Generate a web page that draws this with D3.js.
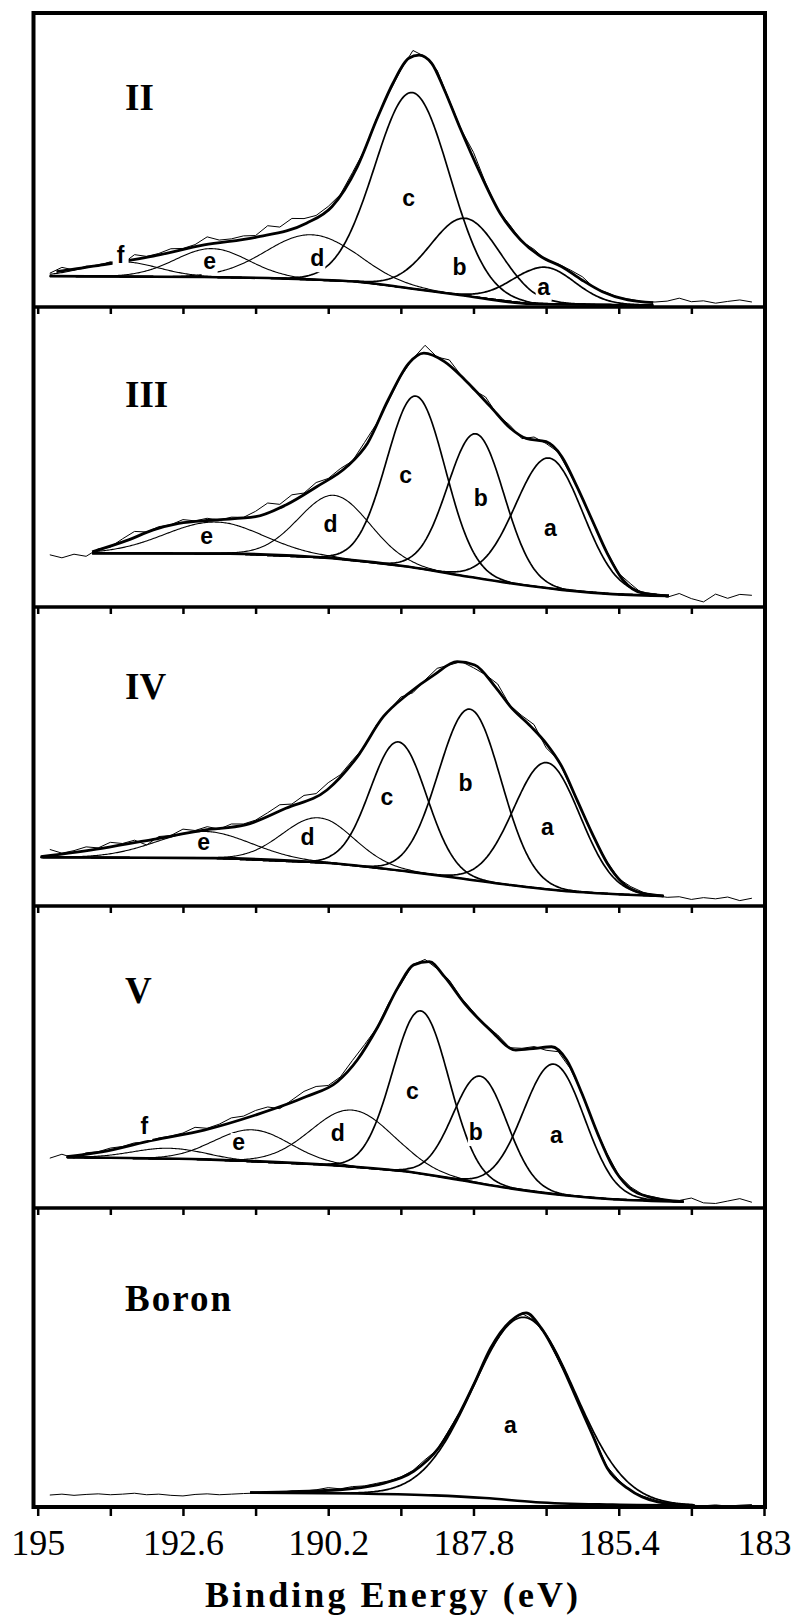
<!DOCTYPE html>
<html>
<head>
<meta charset="utf-8">
<title>B 1s spectra</title>
<style>
  body { margin: 0; background: #fff; }
  .frame { fill: none; stroke: #000; stroke-width: 4; }
  .divider { stroke: #000; stroke-width: 3.5; }
  .raw { fill: none; stroke: #000; stroke-width: 1; }
  .comp { fill: none; stroke: #000; }
  .env { fill: none; stroke: #000; stroke-width: 2.8; }
  .bg { fill: none; stroke: #000; stroke-width: 2.6; }
  .peak-label { font-family: "Liberation Sans", Arial, sans-serif; font-weight: bold; font-size: 23px; text-anchor: middle; }
  .panel-label { font-family: "Liberation Serif", "Times New Roman", serif; font-weight: bold; font-size: 37px; }
  .tick line { stroke: #000; stroke-width: 2.5; }
  .tick text { font-family: "Liberation Serif", "Times New Roman", serif; font-size: 36px; fill: #000; }
  .axis-title { font-family: "Liberation Serif", "Times New Roman", serif; font-weight: bold; font-size: 36px; }
</style>
</head>
<body>
<svg width="802" height="1618"></svg>
<script src="https://d3js.org/d3.v7.min.js"></script>
<script>

// x axis
var energyTicks = [195, 193.8, 192.6, 191.4, 190.2, 189, 187.8, 186.6, 185.4, 184.2, 183];
var tickText = ["195", "", "192.6", "", "190.2", "", "187.8", "", "185.4", "", "183"];
var panelNames = ["II", "III", "IV", "V", "Boron"];

// fitted components: [label, centre (eV), height above background, FWHM (eV)]
var peaksII = [["a", 186.64, 12.5, 1.2], ["b", 187.93, 26.3, 1.35], ["c", 188.81, 66.7, 1.45],
               ["d", 190.47, 15.3, 1.77], ["e", 192.12, 9.7, 1.43], ["f", 193.6, 5, 1.4]];
var peaksIII = [["a", 186.55, 43.4, 1.31], ["b", 187.76, 48, 1.1], ["c", 188.75, 57.3, 1.14],
                ["d", 190.10, 21, 1.39], ["e", 192.08, 10.5, 1.94]];
var peaksIV = [["a", 186.59, 42.3, 1.29], ["b", 187.86, 57, 1.22], ["c", 189.04, 43, 1.1],
               ["d", 190.37, 15, 1.39], ["e", 192.25, 8.9, 1.86]];
var peaksV = [["a", 186.47, 43, 1.19], ["b", 187.69, 35.5, 1.05], ["c", 188.67, 53.9, 1.1],
              ["d", 189.80, 18.8, 1.6], ["e", 191.45, 10.5, 1.48], ["f", 192.84, 3.5, 1.4]];
var peaksBoron = [["a", 186.96, 61.5, 1.97]];

// background knots [eV, intensity]
var bgII = [[194.8, 10.5], [192.25, 10.2], [190.98, 9.7], [189.72, 8.6], [188.87, 6.4], [188.03, 4.1], [186.85, 1.1], [184.83, 0.6]];
var bgIII = [[194.1, 17.9], [191.83, 17.8], [190.14, 16.3], [188.87, 13.4], [188.03, 10.6], [187.19, 7.9], [186.34, 5.7], [185.5, 4.3], [184.57, 3.7]];
var bgIV = [[194.95, 16.3], [192.08, 16.0], [190.14, 14.3], [188.87, 11.5], [188.03, 9.3], [187.19, 7.0], [186.34, 5.1], [185.5, 4.0], [184.66, 3.3]];
var bgV = [[194.52, 16.8], [192.25, 16.1], [190.14, 14.2], [188.87, 12.0], [188.03, 9.3], [187.19, 6.5], [186.34, 4.3], [185.5, 2.9], [184.33, 2.1]];
var bgBoron = [[191.49, 4.8], [189.72, 4.5], [188.45, 3.9], [187.61, 3.0], [186.77, 1.6], [185.5, 0.8], [184.15, 0.5]];

// fit envelope [eV, intensity]
var envII = [[194.69, 12.0], [193.94, 14.3], [193.09, 17.3], [192.25, 21.1], [191.40, 23.7], [190.56, 28.5], [190.14, 34.1],
  [189.72, 47.7], [189.38, 64.7], [189.13, 76.1], [188.87, 84.6], [188.70, 85.7], [188.49, 82.9], [188.28, 73.8],
  [188.03, 61.3], [187.69, 45.5], [187.36, 31.9], [187.02, 22.8], [186.68, 17.1], [186.34, 13.7], [186.01, 9.2],
  [185.67, 5.2], [185.25, 2.4], [184.83, 1.5]];
var envIII = [[194.10, 18.4], [193.51, 22.3], [193.09, 25.7], [192.67, 27.9], [192.08, 29.0], [191.40, 30.1], [190.90, 34.0],
  [190.39, 40.1], [189.89, 46.8], [189.55, 54.6], [189.21, 69.0], [188.87, 81.2], [188.62, 84.6], [188.28, 81.8],
  [187.94, 75.7], [187.52, 66.8], [187.19, 59.6], [186.93, 56.2], [186.60, 55.1], [186.34, 50.1], [186.09, 40.1],
  [185.84, 29.0], [185.59, 17.9], [185.33, 9.0], [185.0, 4.6], [184.57, 3.7]];
var envIV = [[194.95, 16.5], [193.94, 19.3], [193.09, 22.3], [192.25, 25.4], [191.57, 27.1], [190.90, 32.7], [190.22, 38.8],
  [189.72, 49.9], [189.29, 63.3], [188.87, 71.1], [188.45, 77.3], [188.07, 81.7], [187.78, 80.6], [187.44, 73.3],
  [187.19, 66.7], [186.85, 60.0], [186.60, 54.4], [186.34, 46.6], [186.09, 35.5], [185.84, 24.3], [185.59, 14.3],
  [185.33, 7.6], [185.0, 4.2], [184.66, 3.4]];
var envV = [[194.52, 17.0], [193.94, 18.6], [193.09, 22.5], [192.25, 25.8], [191.40, 30.8], [190.56, 36.9], [190.05, 41.8],
  [189.72, 49.0], [189.38, 60.0], [189.04, 73.3], [188.79, 80.5], [188.53, 81.6], [188.28, 76.6], [187.95, 67.8],
  [187.52, 58.9], [187.10, 52.3], [186.77, 52.9], [186.51, 53.4], [186.26, 49.0], [186.01, 38.0], [185.75, 24.7],
  [185.5, 13.7], [185.25, 7.1], [184.91, 3.7], [184.33, 2.1]];
var envBoron = [[191.49, 4.8], [190.14, 5.6], [189.29, 7.9], [188.79, 11.9], [188.37, 19.9], [188.03, 31.3], [187.78, 41.6],
  [187.52, 53.0], [187.19, 62.1], [186.93, 64.9], [186.68, 59.8], [186.34, 47.3], [186.09, 35.9], [185.84, 24.4],
  [185.59, 13.0], [185.25, 6.2], [184.74, 1.6], [184.15, 0.5]];

// raw counts: deviation from the envelope every 0.2 eV, from 195 down to 183
var noiseII = [0, -0.5, 1.2, -0.3, 0.4, -0.2, 0.6, -0.8, 1.6, 0.3, 0.5, 1.2, 0.4, 0.8, 2.6, 0.9, 0.7, 1.1, 0.6, 2.8,
  1.2, 3.0, 1.8, 0.5, 0.9, -0.4, 0.6, -0.3, 0.4, -0.2, 0.3, 2.2, 0.8, 1.5, 0.5, 0.3, 2.0, 0.4, -0.5, 0.3,
  -0.2, 0.5, -0.4, 0.3, 0.8, 1.2, -0.3, 0.2, -0.2, 0.3, -0.1, 0.2, 0.5, 1.5, 0.3, 0.6, -0.2, 0.4, 0.9, 0.2, 0];
var noiseIII = [-1.6, -1.0, -2.0, -0.8, -1.5, 0.3, -0.4, 1.0, 2.0, 0.2, 0.6, 0.2, 1.1, 0.3, 0.8, -0.2, 0.5, 0.1, 1.8, 3.0,
  1.0, 2.2, 0.4, 1.5, 0.2, 0.8, -0.2, 1.4, 0.2, -0.5, 0.4, 0.6, 2.8, 0.5, 2.0, 0.3, -0.4, 1.5, -0.3, 0.8,
  -1.0, 0.9, -0.6, 0.4, -0.3, 0.2, -0.4, 0.3, -0.2, 0.4, -0.3, 0.2, -0.5, 0.8, -0.9, -2.0, 0.6, -0.8, 0.5, 0.2, 0];
var noiseIV = [0, 2.0, 0.2, 0.5, 1.2, 0.3, 1.5, 0.4, 0.8, -1.5, 0.6, 0.2, 1.6, 0.4, 1.0, -0.3, 0.9, 0.4, 0.2, 1.0,
  2.0, 0.5, 1.6, 0.4, 2.0, 0.2, 0.6, -0.4, 0.8, 0.3, 1.2, -0.8, 0.5, 1.6, 0.4, 0.3, -1.0, 0.6, 2.0, 0.2,
  0.7, 1.8, -1.5, 0.5, -0.3, 0.2, -0.2, 0.3, -0.3, 0.2, 0.4, -0.2, -0.5, -0.3, -1.2, -0.6, -1.0, -0.4, -1.6, -0.8, 1.2];
var noiseV = [0, -0.5, 0.8, -0.8, 0.4, 0.2, 0.6, 0.2, 0.5, -0.2, 0.3, 0.2, 0.4, 1.5, 0.3, 0.5, 1.4, 0.8, 1.5, 1.2,
  -0.8, 0.6, 2.0, 1.8, 0.2, 0.5, 1.6, 1.2, 0.2, 0.8, -0.3, 0.4, 1.0, 0.2, 1.0, 0.4, 0.2, -0.3, 0.3, -0.8,
  0.4, 0.6, -1.0, 0.3, -0.2, 0.3, -0.2, 0.2, -0.2, 0.3, -0.2, 0.2, -0.3, 0.2, 1.2, -0.4, -0.6, 0.2, 1.0, -0.2, 0];
var noiseBoron = [-0.6, -0.8, -0.5, -0.9, -0.6, -0.4, -0.7, -0.5, -0.2, -0.7, -0.5, -0.9, -1.1, -0.6, -0.4, -0.7, -0.5, -0.3, -0.2, 0.1,
  -0.2, 0.2, 0.0, 0.3, 0.9, 0.1, 0.3, 0.0, 0.3, 0.1, -0.2, 0.4, 0.3, -0.2, 0.3, 0.1, 0.4, 0.2, -0.2, 0.3,
  0.6, 0.2, 0.4, -0.3, 0.3, -0.2, 0.3, 0.2, -0.2, -0.5, -0.3, 0.2, -0.2, 0.1, 0.0, -0.1, 0.2, -0.2, 0.1, 0.3, 0.1];
var rawRangeII = [194.86, 183.18];
var rawRangeIII = [194.95, 183.14];
var rawRangeIV = [194.95, 183.12];
var rawRangeV = [194.86, 183.18];
var rawRangeBoron = [194.99, 183.06];

// where the component letters sit [label, eV, intensity at baseline]
var labelsII = [["a", 186.64, 4.1], ["b", 188.03, 10.9], ["c", 188.87, 34.4], ["d", 190.38, 13.9], ["e", 192.16, 12.9], ["f", 193.63, 15.0]];
var labelsIII = [["a", 186.53, 23.7], ["b", 187.68, 33.7], ["c", 188.92, 41.3], ["d", 190.16, 25.0], ["e", 192.21, 21.0]];
var labelsIV = [["a", 186.58, 23.7], ["b", 187.93, 38.5], ["c", 189.23, 33.8], ["d", 190.54, 20.4], ["e", 192.26, 18.7]];
var labelsV = [["a", 186.43, 21.5], ["b", 187.76, 22.5], ["c", 188.81, 36.1], ["d", 190.04, 22.2], ["e", 191.68, 19.2], ["f", 193.24, 24.5]];
var labelsBoron = [["a", 187.19, 24.7]];

var panels = [
  {peaks: peaksII, bg: bgII, env: envII, noise: noiseII, raw: rawRangeII, labels: labelsII},
  {peaks: peaksIII, bg: bgIII, env: envIII, noise: noiseIII, raw: rawRangeIII, labels: labelsIII},
  {peaks: peaksIV, bg: bgIV, env: envIV, noise: noiseIV, raw: rawRangeIV, labels: labelsIV},
  {peaks: peaksV, bg: bgV, env: envV, noise: noiseV, raw: rawRangeV, labels: labelsV},
  {peaks: peaksBoron, bg: bgBoron, env: envBoron, noise: noiseBoron, raw: rawRangeBoron, labels: labelsBoron}
];

var svg = d3.select("svg");
svg.append("rect").attr("width", 802).attr("height", 1618).attr("fill", "#fff");

var frameL = 33.5, frameR = 765;
var edges = [13, 307, 607, 906, 1208, 1507];
var x = d3.scaleLinear().domain([195, 183]).range([37.7, 764]);

// thin lines for the small components
var thin = {d: 1.1, e: 1.1, f: 1.1};

function gauss(E, p) {
  var s = p[3] / 2.3548;
  return p[2] * Math.exp(-(E - p[1]) * (E - p[1]) / (2 * s * s));
}

panels.forEach(function(P, k) {
  var y = d3.scaleLinear().domain([0, 100]).range([edges[k + 1], edges[k]]);
  var bgScale = d3.scaleLinear().domain(P.bg.map(function(d) { return d[0]; }))
      .range(P.bg.map(function(d) { return d[1]; })).clamp(true);
  var envScale = d3.scaleLinear().domain(P.env.map(function(d) { return d[0]; }))
      .range(P.env.map(function(d) { return d[1]; })).clamp(true);
  var fitStart = P.bg[0][0], fitEnd = P.bg[P.bg.length - 1][0];

  var g = svg.append("g");
  var line = d3.line().x(function(d) { return x(d[0]); }).y(function(d) { return y(d[1]); });

  // components
  var Es = d3.range(fitStart, fitEnd - 0.001, -0.02).concat([fitEnd]);
  P.peaks.forEach(function(p) {
    var pts = Es.map(function(E) { return [E, bgScale(E) + gauss(E, p)]; });
    g.append("path").attr("class", "comp")
      .attr("stroke-width", thin[p[0]] || 1.7)
      .attr("d", line(pts));
  });

  // background
  g.append("path").attr("class", "bg")
    .attr("d", line.curve(d3.curveMonotoneX)(P.bg));

  // envelope
  g.append("path").attr("class", "env")
    .attr("d", line.curve(d3.curveMonotoneX)(P.env));

  // raw data
  var rawPts = [];
  P.noise.forEach(function(n, i) {
    var E = 195 - 0.2 * i;
    if (E <= P.raw[0] + 1e-6 && E >= P.raw[1] - 1e-6) rawPts.push([E, envScale(E) + n]);
  });
  g.append("path").attr("class", "raw")
    .attr("d", line.curve(d3.curveLinear)(rawPts));

  // component letters on small white boxes
  P.labels.forEach(function(L) {
    var lx = x(L[1]), ly = y(L[2]);
    g.append("rect").attr("x", lx - 8).attr("y", ly - 17).attr("width", 16).attr("height", 23).attr("fill", "#fff");
    g.append("text").attr("class", "peak-label").attr("x", lx).attr("y", ly).text(L[0]);
  });

  // ticks on the bottom edge of every panel
  var last = k === panels.length - 1;
  var axis = d3.axisBottom(x).tickValues(energyTicks).tickSize(last ? 9 : 7)
      .tickFormat(function(d, i) { return last ? tickText[i] : ""; });
  var ag = svg.append("g").attr("transform", "translate(0," + edges[k + 1] + ")").call(axis);
  ag.select(".domain").remove();
  ag.selectAll("text").attr("y", 48).attr("dy", 0);

  var nameBase = [110, 407, 699, 1003, 1311][k];
  svg.append("text").attr("class", "panel-label")
    .attr("x", 125).attr("y", nameBase)
    .attr("letter-spacing", panelNames[k] === "Boron" ? 2 : 0)
    .text(panelNames[k]);
});

// frame
svg.append("rect").attr("class", "frame")
  .attr("x", frameL).attr("y", edges[0])
  .attr("width", frameR - frameL).attr("height", edges[5] - edges[0]);
edges.slice(1, 5).forEach(function(e) {
  svg.append("line").attr("class", "divider")
    .attr("x1", frameL).attr("x2", frameR).attr("y1", e).attr("y2", e);
});

svg.append("text").attr("class", "axis-title")
  .attr("x", 205).attr("y", 1607)
  .attr("textLength", 373).attr("lengthAdjust", "spacing")
  .text("Binding Energy (eV)");

</script>
</body>
</html>
